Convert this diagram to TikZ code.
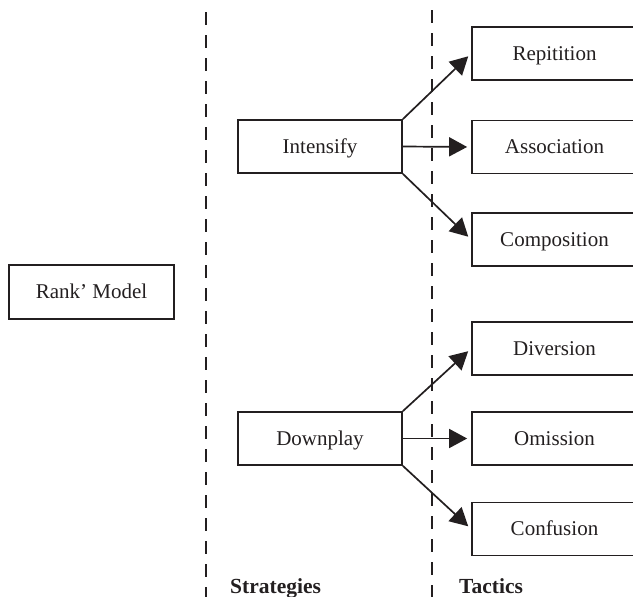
\documentclass[tikz,border=0pt]{standalone}
\usepackage{fontspec}
\setmainfont{Liberation Serif}
\usetikzlibrary{arrows.meta}
\definecolor{ink}{HTML}{231F20}
\tikzset{
  box/.style={draw=ink, line width=1.7pt, minimum width=164pt, minimum height=53pt, inner sep=0pt, text=ink, text height=16pt, text depth=3pt, font=\fontsize{21}{25}\selectfont},
  conn/.style={draw=ink, line width=1.7pt, -{Triangle[length=18pt,width=19pt]}, shorten >=4pt},
  divider/.style={draw=ink, line width=1.7pt, dash pattern=on 13pt off 10pt},
  heading/.style={text=ink, inner sep=0pt, font=\fontsize{21.5}{25}\selectfont\bfseries}
}
\begin{document}
\begin{tikzpicture}[x=1pt,y=-1pt]
\useasboundingbox (0,0) rectangle (633,597);
\clip (0,0) rectangle (633,597);
% dividers
\coordinate (d1t) at (206,12);
\coordinate (d1b) at (206,600);
\coordinate (d2t) at (432,10);
\coordinate (d2b) at (432,600);
\draw[divider] (d1t) -- (d1b);
\draw[divider] (d2t) -- (d2b);
% nodes
\node[box, minimum width=165pt, minimum height=54pt] (rank) at (91.5,292) {Rank’ Model};
\node[box] (int) at (320,146.5) {Intensify};
\node[box] (down) at (320,438.5) {Downplay};
\node[box, minimum width=165pt] (rep) at (554.5,53.5) {Repitition};
\node[box, minimum width=165pt] (ass) at (554.5,147) {Association};
\node[box, minimum width=165pt] (comp) at (554.5,239.5) {Composition};
\node[box, minimum width=165pt] (div) at (554.5,348.5) {Diversion};
\node[box, minimum width=165pt] (om) at (554.5,438.5) {Omission};
\node[box, minimum width=165pt] (conf) at (554.5,529) {Confusion};
% connectors
\draw[conn] (int.north east) -- (rep.west);
\draw[conn] (int.east) -- (ass.west);
\draw[conn] (int.south east) -- (comp.west);
\draw[conn] (down.north east) -- (div.west);
\draw[conn] (down.east) -- (om.west);
\draw[conn] (down.south east) -- (conf.west);
% headings
\node[heading, anchor=base west] (strat) at (230,593) {Strategies};
\node[heading, anchor=base west] (tact) at (459,593) {Tactics};
\end{tikzpicture}
\end{document}
